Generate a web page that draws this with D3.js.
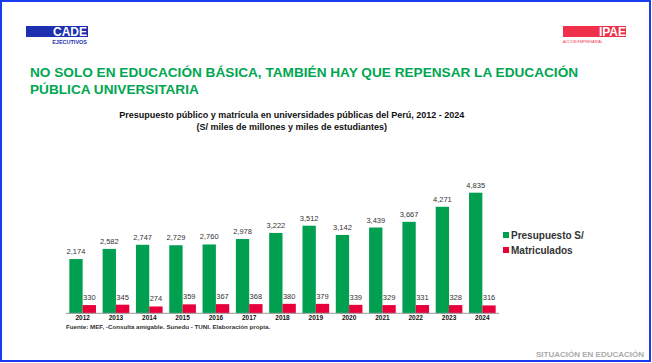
<!DOCTYPE html>
<html><head><meta charset="utf-8">
<script src="https://cdn.jsdelivr.net/npm/d3@7"></script>
<style>body{margin:0;background:#fff}svg{display:block;font-family:"Liberation Sans",Arial,sans-serif}</style>
</head><body><svg id="c" width="652" height="363"></svg>
<script>
const years = ["2012","2013","2014","2015","2016","2017","2018","2019","2020","2021","2022","2023","2024"];
const presupuesto = [2174,2582,2747,2729,2760,2978,3222,3512,3142,3439,3667,4271,4835];
const matriculados = [330,345,274,359,367,368,380,379,339,329,331,328,316];
const seriesNames = ["Presupuesto S/","Matriculados"];
const colors = ["#00A050","#E8003D"];

const svg = d3.select("#c");
svg.append("rect").attr("x",1).attr("y",1).attr("width",649).attr("height",360)
  .attr("fill","#fff").attr("stroke","#1a3cf0").attr("stroke-width",2);

// logos
svg.append("rect").attr("x",26).attr("y",26).attr("width",62).attr("height",11).attr("fill","#1e2fb0");
svg.append("text").attr("x",87).attr("y",36).attr("text-anchor","end").attr("fill","#fff")
  .attr("font-weight","bold").attr("font-size",12).text("CADE");
svg.append("text").attr("x",87).attr("y",44).attr("text-anchor","end").attr("fill","#1e2fb0")
  .attr("font-weight","bold").attr("font-size",5.5).text("EJECUTIVOS");
svg.append("rect").attr("x",563).attr("y",26).attr("width",63).attr("height",11).attr("fill","#F0304A");
svg.append("text").attr("x",626).attr("y",36).attr("text-anchor","end").attr("fill","#fff")
  .attr("font-weight","bold").attr("font-size",12).text("IPAE");
svg.append("text").attr("x",563).attr("y",43).attr("fill","#F0304A")
  .attr("font-size",3.5).text("ACCIÓN EMPRESARIAL");

// title
const tg = svg.append("g").attr("fill","#00A651").attr("font-weight","bold").attr("font-size",14);
const t1 = tg.append("text").attr("x",30).attr("y",77.3).text("NO SOLO EN EDUCACIÓN BÁSICA, TAMBIÉN HAY QUE REPENSAR LA EDUCACIÓN");
const w = t1.node().getComputedTextLength();
const fs = 14*549/w;
tg.attr("font-size",fs);
tg.append("text").attr("x",30).attr("y",94.3).text("PÚBLICA UNIVERSITARIA");

svg.append("text").attr("x",291.7).attr("y",118).attr("text-anchor","middle").attr("font-weight","bold")
  .attr("font-size",9).attr("fill","#111").text("Presupuesto público y matrícula en universidades públicas del Perú, 2012 - 2024");
svg.append("text").attr("x",291.7).attr("y",129.7).attr("text-anchor","middle").attr("font-weight","bold")
  .attr("font-size",9).attr("fill","#111").text("(S/ miles de millones y miles de estudiantes)");

// chart
const x0 = d3.scaleBand().domain(years).range([66,499]).paddingInner(0.2).paddingOuter(0.1);
const x1 = d3.scaleBand().domain([0,1]).range([0,x0.bandwidth()]);
const y = d3.scaleLinear().domain([0,4835]).range([313.3,192.7]);

const data = years.map((yr,i)=>({yr, vals:[presupuesto[i],matriculados[i]]}));
const g = svg.append("g");
const groups = g.selectAll("g.grp").data(data).join("g").attr("transform",d=>`translate(${x0(d.yr)},0)`);
groups.selectAll("rect").data(d=>d.vals.map((v,k)=>({v,k}))).join("rect")
  .attr("x",d=>x1(d.k)).attr("width",x1.bandwidth()).attr("y",d=>y(d.v)).attr("height",d=>y(0)-y(d.v))
  .attr("fill",d=>colors[d.k]);
groups.selectAll("text.v").data(d=>d.vals.map((v,k)=>({v,k}))).join("text").attr("class","v")
  .attr("x",d=>x1(d.k)+x1.bandwidth()/2).attr("y",d=>y(d.v)-5).attr("text-anchor","middle")
  .attr("font-size",7.5).attr("fill","#333").text(d=>d3.format(",")(d.v));

const ax = svg.append("g").attr("transform","translate(0,313.3)").call(d3.axisBottom(x0).tickSize(0).tickPadding(2.5));
ax.select(".domain").attr("stroke","#999").attr("d","M66,0H499");
ax.selectAll("text").attr("font-family","Liberation Sans, Arial").attr("font-weight","bold").attr("font-size",6.5).attr("fill","#111");

// legend
const lg = svg.append("g");
seriesNames.forEach((n,i)=>{
  lg.append("rect").attr("x",503).attr("y",235+i*15-3).attr("width",6).attr("height",6).attr("fill",colors[i]);
  lg.append("text").attr("x",511).attr("y",235+i*15+3.5).attr("font-weight","bold").attr("font-size",10)
    .attr("fill","#333").text(n);
});

svg.append("text").attr("x",66).attr("y",328.5).attr("font-size",6.2).attr("font-weight","bold").attr("fill","#333")
  .text("Fuente: MEF, -Consulta amigable. Sunedu - TUNI. Elaboración propia.");
svg.append("text").attr("x",644).attr("y",357).attr("text-anchor","end").attr("font-size",8).attr("font-weight","bold")
  .attr("fill","#aaa").text("SITUACIÓN EN EDUCACIÓN");
</script></body></html>
